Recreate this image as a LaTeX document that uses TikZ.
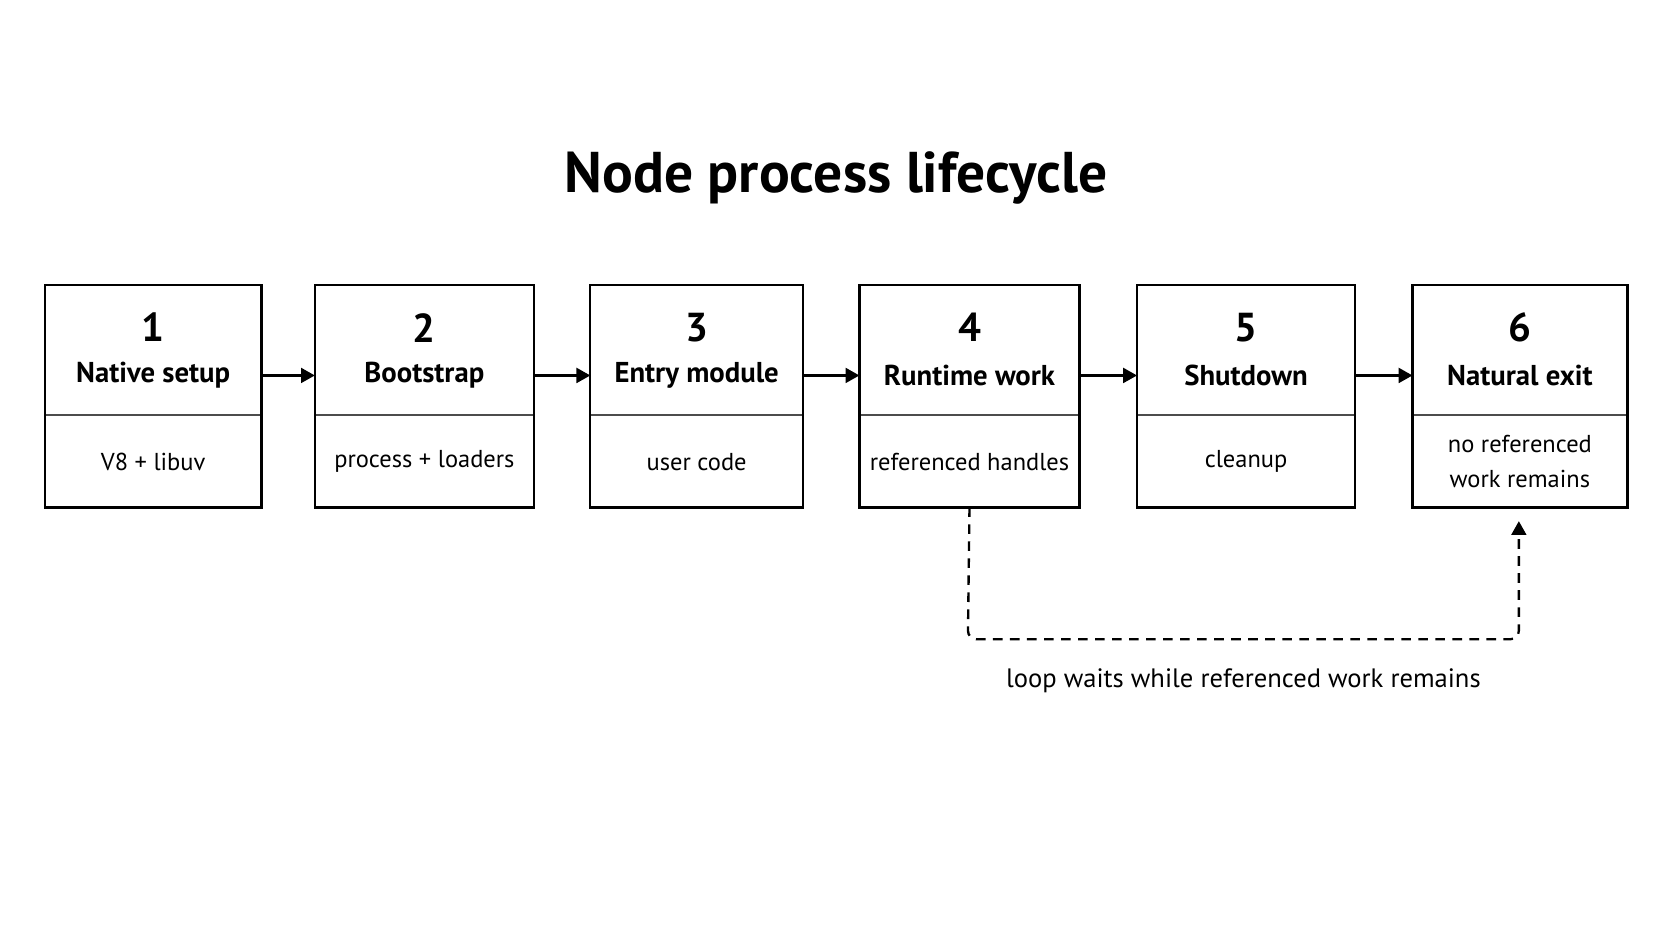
\documentclass[tikz,border=0pt]{standalone}
\usepackage{fontspec}
\setmainfont{PT Sans}
\usetikzlibrary{arrows.meta}
\begin{document}
\begin{tikzpicture}[x=1pt,y=-1pt,
  box/.style={draw,line width=2.2pt},
  div/.style={draw=black!70,line width=1.3pt},
  num/.style={font=\fontsize{38}{42}\selectfont\bfseries},
  ttl/.style={font=\fontsize{27}{30}\selectfont\bfseries},
  body/.style={font=\fontsize{23}{33}\selectfont,align=center},
  arr/.style={line width=2.2pt,-{Triangle[length=13pt,width=14pt]}}]
\useasboundingbox (0,0) rectangle (1572,885);
\node[font=\fontsize{54}{60}\selectfont\bfseries] (title) at (786,167) {Node process lifecycle};
\foreach \i/\a/\b/\t/\s in {1/42/246/Native setup/V8 + libuv,
  2/296/502/Bootstrap/process + loaders,
  3/555/755/Entry module/user code,
  4/808/1015/Runtime work/referenced handles,
  5/1069/1274/Shutdown/cleanup,
  6/1328/1530/Natural exit/{no referenced\\work remains}}{
  \draw[div] (\a,390) -- (\b,390);
  \draw[box] (\a,268) rectangle (\b,477);
  \coordinate (L\i) at (\a,353);
  \coordinate (R\i) at (\b,353);
  \coordinate (B\i) at ({(\a+\b)/2},477);
  \node[num] (n\i) at ({(\a+\b)/2},308) {\i};
  \node[ttl] (t\i) at ({(\a+\b)/2},353) {\t};
  \node[body] (s\i) at ({(\a+\b)/2},434) {\s};
}
\foreach \i/\j in {1/2,2/3,3/4,4/5,5/6}{\draw[arr] (R\i) -- (L\j);}
\coordinate (E6) at (1428,490);
\draw[arr,dashed,dash pattern=on 9pt off 7pt,rounded corners=8pt] (B4) -- (910,601) -- (1428,601) -- (E6);
\node[font=\fontsize{25}{28}\selectfont] (lbl) at (1169,640) {loop waits while referenced work remains};
\end{tikzpicture}
\end{document}
